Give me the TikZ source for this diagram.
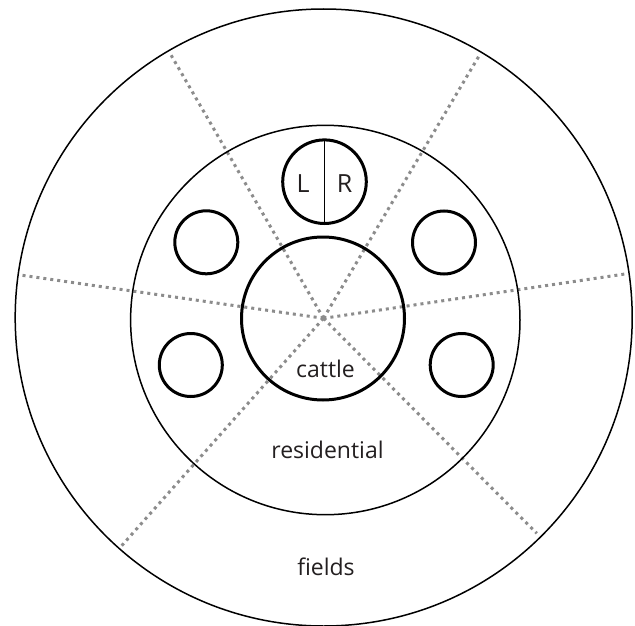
\documentclass[tikz,border=0pt]{standalone}
\usepackage{fontspec}
\setmainfont{Open Sans}
\definecolor{spokegray}{RGB}{140,140,140}
\definecolor{txt}{RGB}{35,31,32}
\begin{document}
\begin{tikzpicture}[x=1pt,y=-1pt,
  ring/.style={circle,draw=black,inner sep=0pt,outer sep=0pt},
  thinring/.style={ring,line width=1.5pt},
  thickring/.style={ring,line width=3pt},
  spoke/.style={draw=spokegray,line width=3pt,dash pattern=on 3pt off 4pt},
  lbl/.style={text=txt,font=\fontsize{23}{27}\selectfont,inner sep=0pt},
  biglbl/.style={text=txt,font=\fontsize{25}{29}\selectfont,inner sep=0pt}]
\useasboundingbox (0,0) rectangle (635,626);
% spokes
\coordinate (c) at (323.5,318.3);
\coordinate (sL) at (20,275);
\coordinate (sR) at (625,274);
\coordinate (sUL) at (170,53.3);
\coordinate (sUR) at (480,54.3);
\coordinate (sLL) at (121.7,545.7);
\coordinate (sLR) at (536.7,533.3);
\foreach \e in {sL,sR,sUL,sUR,sLL,sLR} \draw[spoke] (c) -- (\e);
% rings
\node[thinring,minimum size=617pt] (outer) at (323.7,317.5) {};
\node[thinring,minimum size=389.4pt] (middle) at (325.3,320) {};
\node[thickring,minimum size=163pt] (cattle) at (323,318.5) {};
\node[thickring,minimum size=83.6pt] (lr) at (324.5,181.7) {};
\draw[line width=1.2pt] (lr.north) -- (lr.south);
\node[thickring,minimum size=63pt] (ul) at (206.3,242.3) {};
\node[thickring,minimum size=63pt] (ur) at (444,242.5) {};
\node[thickring,minimum size=63pt] (ll) at (190.8,365) {};
\node[thickring,minimum size=63pt] (lrc) at (461.7,365) {};
% labels
\node[biglbl] (tL) at (303,184) {L};
\node[biglbl] (tR) at (344.5,184) {R};
\node[lbl] (tcattle) at (325.5,369) {cattle};
\node[lbl] (tres) at (327.5,450) {residential};
\node[lbl] (tfields) at (326,567) {fields};
\end{tikzpicture}
\end{document}
